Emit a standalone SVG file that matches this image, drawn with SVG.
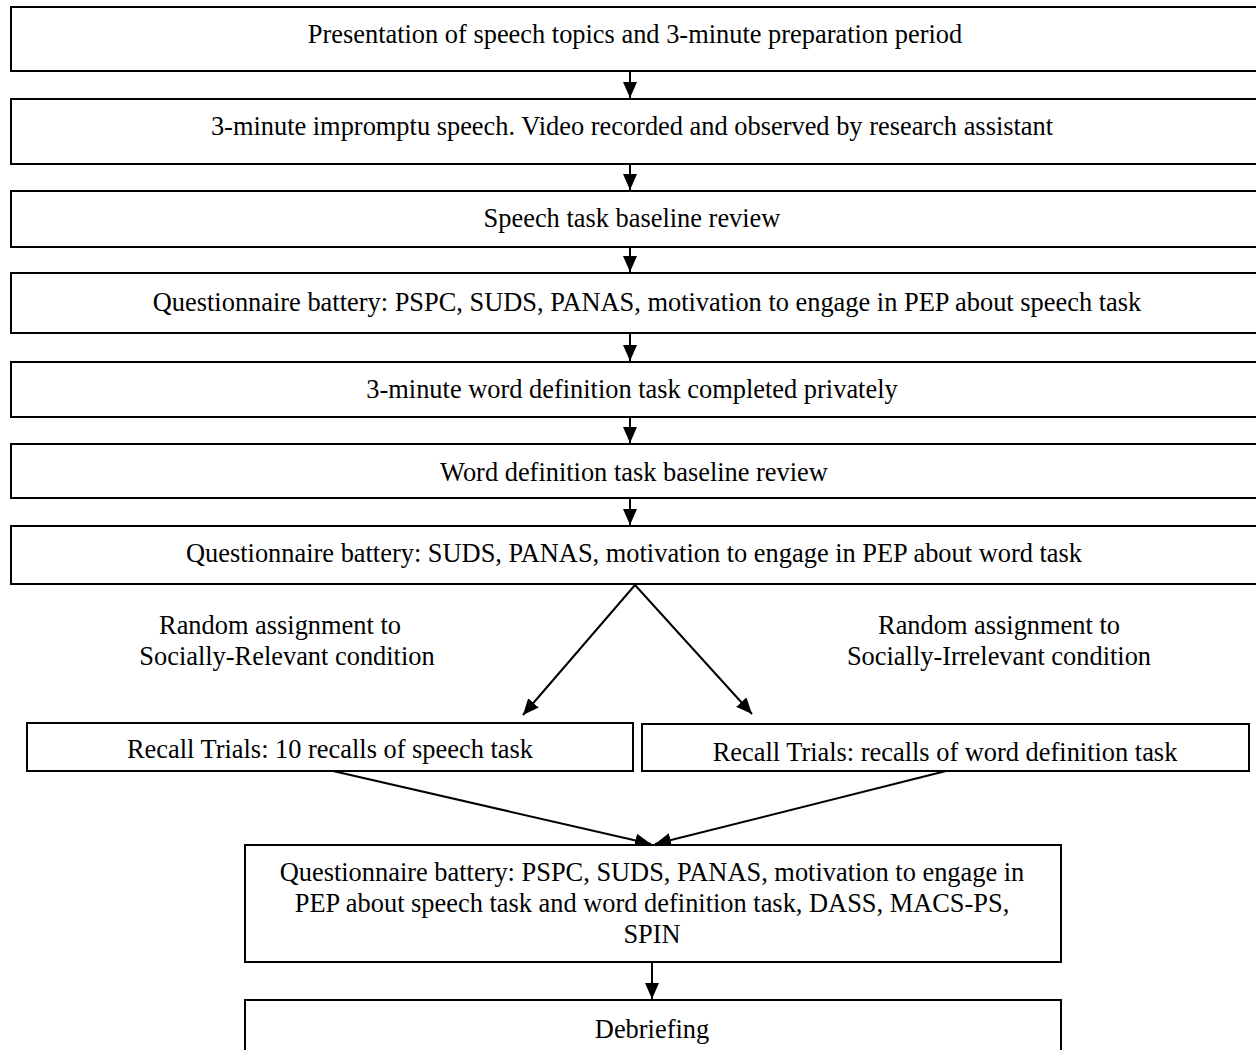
<svg xmlns="http://www.w3.org/2000/svg" width="1256" height="1050" viewBox="0 0 1256 1050">
<defs>
<style>
.box{fill:#fff;stroke:#000;stroke-width:2}
.t{font-family:"Liberation Serif","Times New Roman",serif;font-size:26.4px;fill:#000;text-anchor:middle}
.ln{stroke:#000;stroke-width:2;fill:none}
</style>
<marker id="a" viewBox="0 0 10 10" refX="10" refY="5" markerWidth="16" markerHeight="14" orient="auto" markerUnits="userSpaceOnUse" preserveAspectRatio="none">
<path d="M0,0 L10,5 L0,10 z" fill="#000"/>
</marker>
</defs>
<rect width="1256" height="1050" fill="#fff"/>
<g id="connectors">
<line class="ln" x1="630" y1="71" x2="630" y2="98" marker-end="url(#a)"/>
<line class="ln" x1="630" y1="164" x2="630" y2="190" marker-end="url(#a)"/>
<line class="ln" x1="630" y1="247" x2="630" y2="272" marker-end="url(#a)"/>
<line class="ln" x1="630" y1="333" x2="630" y2="361" marker-end="url(#a)"/>
<line class="ln" x1="630" y1="417" x2="630" y2="443" marker-end="url(#a)"/>
<line class="ln" x1="630" y1="498" x2="630" y2="525" marker-end="url(#a)"/>
<line class="ln" x1="635" y1="585" x2="523" y2="715" marker-end="url(#a)"/>
<line class="ln" x1="635" y1="585" x2="752" y2="714" marker-end="url(#a)"/>
<line class="ln" x1="333" y1="771" x2="651" y2="844" marker-end="url(#a)"/>
<line class="ln" x1="946" y1="771" x2="655" y2="844" marker-end="url(#a)"/>
<line class="ln" x1="652" y1="962" x2="652" y2="999" marker-end="url(#a)"/>
</g>
<g id="n1"><rect class="box" x="11" y="7" width="1260" height="64"/><text class="t" x="635" y="43">Presentation of speech topics and 3-minute preparation period</text></g>
<g id="n2"><rect class="box" x="11" y="99" width="1260" height="65"/><text class="t" x="632" y="135">3-minute impromptu speech. Video recorded and observed by research assistant</text></g>
<g id="n3"><rect class="box" x="11" y="191" width="1260" height="56"/><text class="t" x="632" y="227">Speech task baseline review</text></g>
<g id="n4"><rect class="box" x="11" y="273" width="1260" height="60"/><text class="t" x="647" y="311">Questionnaire battery: PSPC, SUDS, PANAS, motivation to engage in PEP about speech task</text></g>
<g id="n5"><rect class="box" x="11" y="362" width="1260" height="55"/><text class="t" x="632" y="398">3-minute word definition task completed privately</text></g>
<g id="n6"><rect class="box" x="11" y="444" width="1260" height="54"/><text class="t" x="634" y="481">Word definition task baseline review</text></g>
<g id="n7"><rect class="box" x="11" y="526" width="1260" height="58"/><text class="t" x="634" y="562">Questionnaire battery: SUDS, PANAS, motivation to engage in PEP about word task</text></g>
<g id="lbl1"><text class="t" x="280" y="634">Random assignment to</text><text class="t" x="287" y="665">Socially-Relevant condition</text></g>
<g id="lbl2"><text class="t" x="999" y="634">Random assignment to</text><text class="t" x="999" y="665">Socially-Irrelevant condition</text></g>
<g id="n8"><rect class="box" x="27" y="723" width="606" height="48"/><text class="t" x="330" y="758">Recall Trials: 10 recalls of speech task</text></g>
<g id="n9"><rect class="box" x="642" y="724" width="607" height="47"/><text class="t" x="945" y="761">Recall Trials: recalls of word definition task</text></g>
<g id="n10"><rect class="box" x="245" y="845" width="816" height="117"/>
<text class="t" x="652" y="881">Questionnaire battery: PSPC, SUDS, PANAS, motivation to engage in</text>
<text class="t" x="652" y="912">PEP about speech task and word definition task, DASS, MACS-PS,</text>
<text class="t" x="652" y="943">SPIN</text></g>
<g id="n11"><rect class="box" x="245" y="1000" width="816" height="60"/><text class="t" x="652" y="1038">Debriefing</text></g>
</svg>
